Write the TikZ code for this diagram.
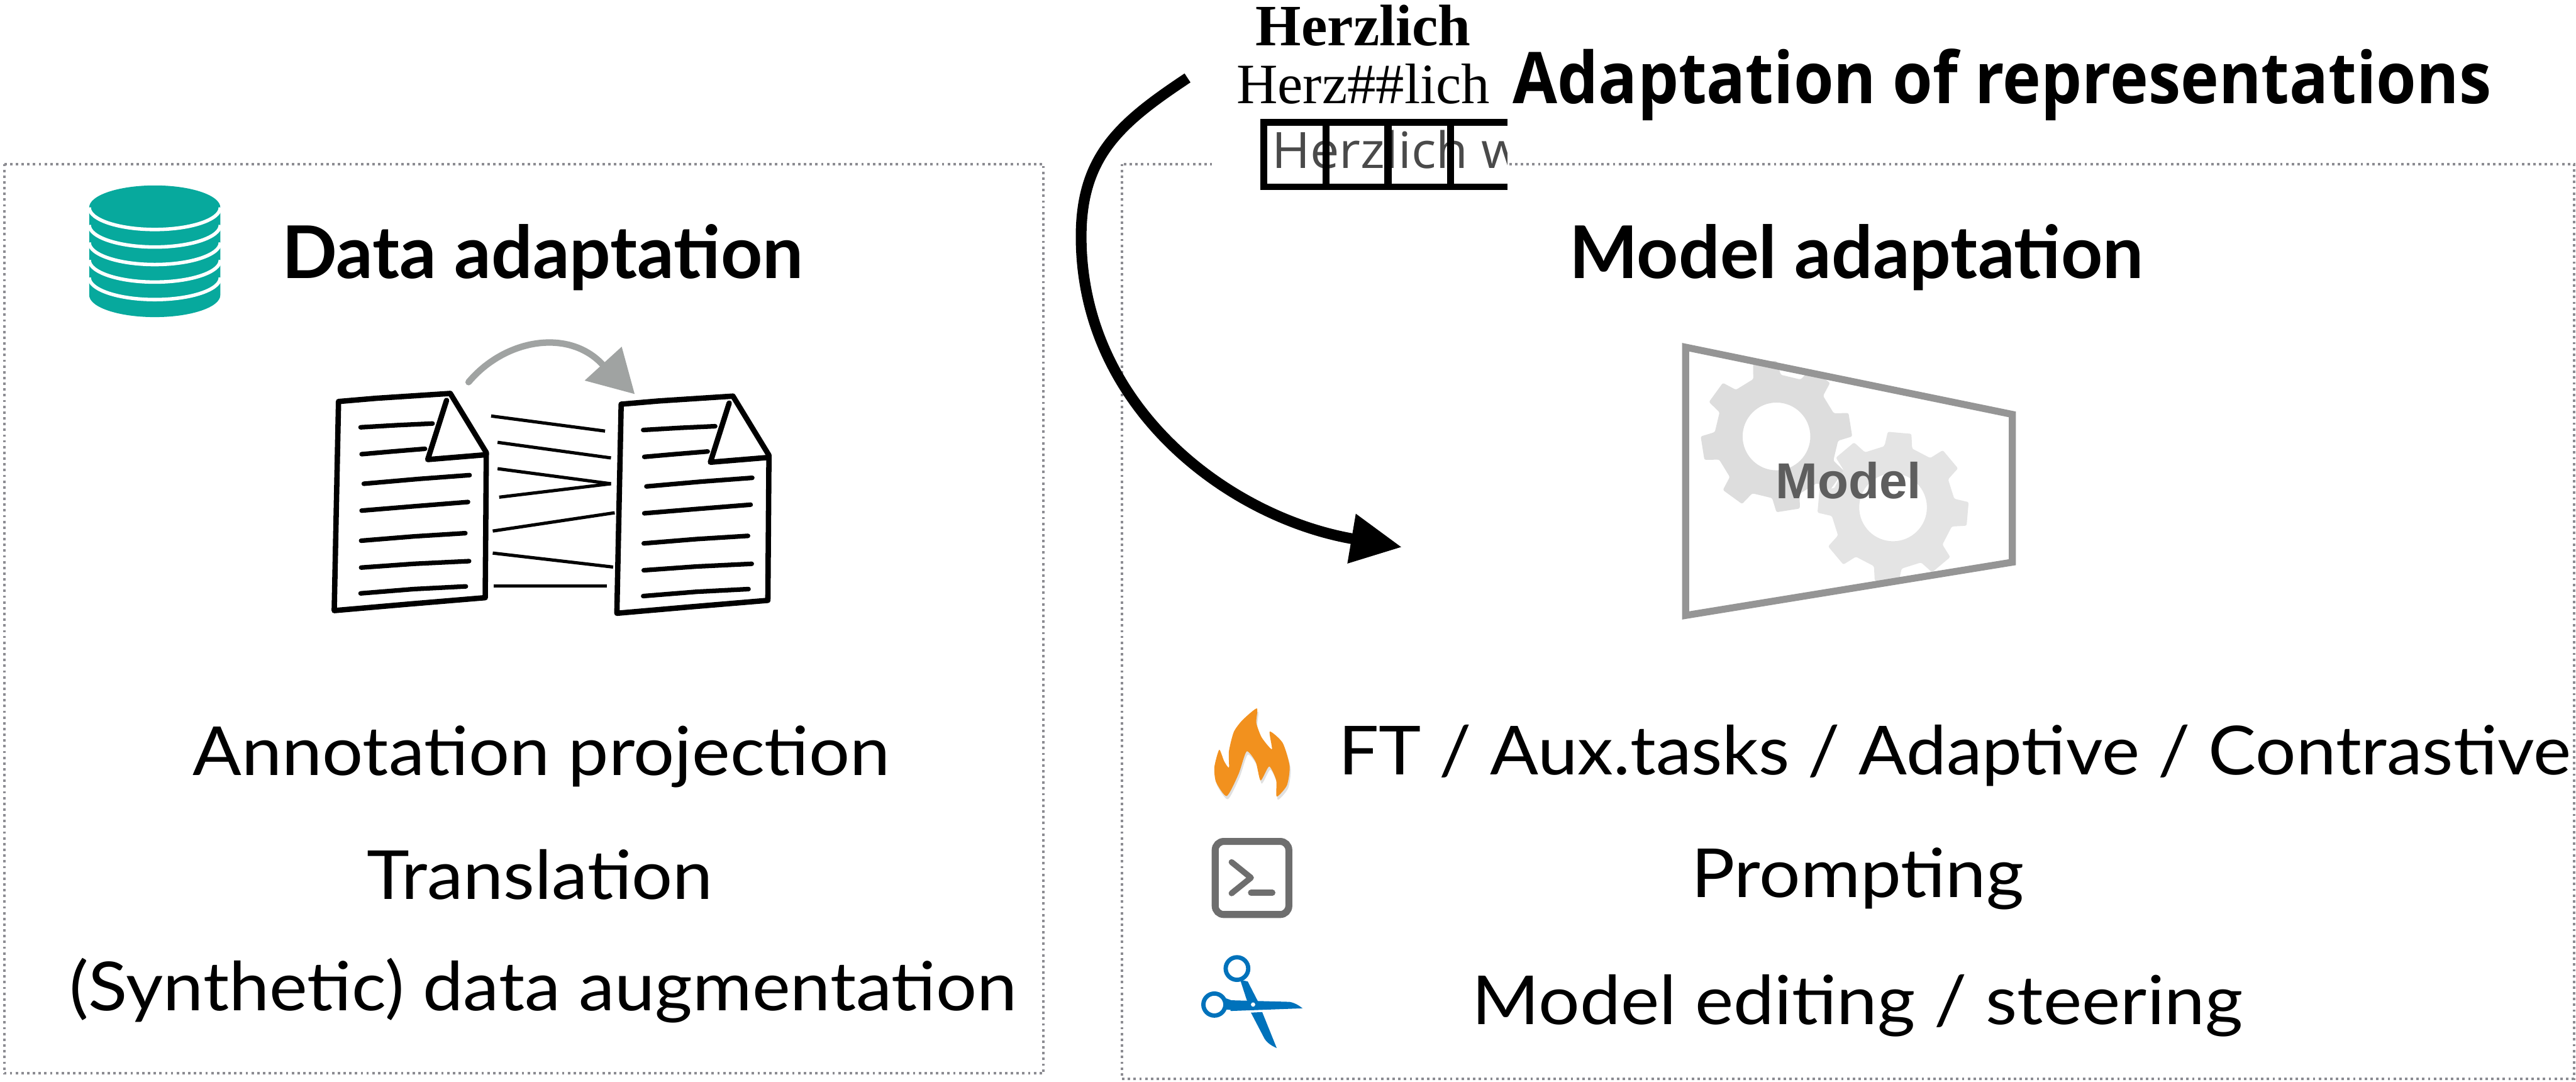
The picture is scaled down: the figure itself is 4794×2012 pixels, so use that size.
\documentclass[tikz,border=0pt]{standalone}
\usepackage{fontspec}
\setmainfont{Lato}
\newfontfamily\reprfont{Open Sans}
\newfontfamily\tokfont{Open Sans}
\newfontfamily\serfont{Liberation Serif}
\newfontfamily\modelfont{Liberation Sans}
\usetikzlibrary{arrows.meta}

\definecolor{dbteal}{HTML}{07A99D}
\definecolor{boxgray}{RGB}{140,140,146}
\definecolor{gearA}{HTML}{DDDDDD}
\definecolor{gearB}{HTML}{E4E4E4}
\definecolor{frameGray}{HTML}{959595}
\definecolor{modelText}{HTML}{5E5E5E}
\definecolor{sketchGray}{RGB}{160,163,162}
\definecolor{flameOrange}{HTML}{F2911E}
\definecolor{termGray}{HTML}{6E6E6E}
\definecolor{scissorBlue}{HTML}{0072BB}
\definecolor{tokGray}{HTML}{4A4A4A}

\newcommand\setfs[1]{\fontsize{#1}{#1}\selectfont}
% body lines are set slightly wider than Lato's natural width
\newcommand\widetext[2][1.068]{\scalebox{#1}[1]{#2}}

\begin{document}
\begin{tikzpicture}[x=0.01cm,y=-0.01cm,
  panel/.style={draw=boxgray, line width=0.045cm, dash pattern=on 0.045cm off 0.062cm},
  heading/.style={font=\setfs{38.5pt}\bfseries, anchor=base, inner sep=0},
  item/.style={font=\setfs{35.8pt}, anchor=base, inner sep=0},
  docedge/.style={line width=0.1cm, line cap=round, line join=round},
  docline/.style={line width=0.085cm, line cap=round, line join=round},
  link/.style={line width=0.06cm},
  gearbody/.style={even odd rule, rounded corners=0.03cm},
  docsketch/.pic={
    \draw[docedge] (630,747) -- (700,741) -- (838,732) -- (905,842) -- (904,980)
                   -- (903,1112) -- (760,1124) -- (622,1136) -- (626,940) -- cycle;
    \draw[docedge] (831,745) -- (796,855) -- (905,846);
    \draw[docline] (671,795) -- (740,791) -- (805,788);
    \draw[docline] (673,845) -- (730,840) -- (791,835);
    \draw[docline] (677,900) -- (780,891) -- (874,884);
    \draw[docline] (673,950) -- (770,942) -- (871,934);
    \draw[docline] (672,1006) -- (770,998) -- (866,992);
    \draw[docline] (672,1056) -- (770,1049) -- (873,1044);
    \draw[docline] (671,1104) -- (770,1096) -- (867,1091);
  }]

\useasboundingbox (0,0) rectangle (4794,2012);

% dotted panels
\draw[panel] (8,305) rectangle (1942,1997);
\draw[panel] (2088,305) rectangle (4790,2007);

% ---------- data adaptation panel ----------
% database stack
\fill[dbteal] (166,386) arc[start angle=180, end angle=360, x radius=122, y radius=41]
  -- (410,549) arc[start angle=0, end angle=180, x radius=122, y radius=41] -- cycle;
\foreach \k in {0,...,4}
  \draw[white, line width=0.065cm] (166,{386+32.6*\k}) arc[start angle=180, end angle=0, x radius=122, y radius=41];

\node[heading] (dataTitle) at (1010,518) {Data adaptation};

% two sketched documents and the alignment links
\pic at (0,0) {docsketch};
\pic at (526,5) {docsketch};
\draw[link] (914,774) -- (1126,802);
\draw[link] (926,823) -- (1137,852);
\draw[link] (926,872) -- (1137,900);
\draw[link] (929,925) -- (1137,900);
\draw[link] (917,988) -- (1144,954);
\draw[link] (917,1029) -- (1141,1055);
\draw[link] (919,1090) -- (1130,1090);

% transfer arrow above the documents
\draw[sketchGray, line width=0.12cm, line cap=round] (872,711) .. controls (940,630) and (1060,610) .. (1123,680);
\fill[sketchGray] (1088,708) -- (1157,645) -- (1181,733) -- cycle;

\node[item] (annProj) at (1008,1442) {\widetext{Annotation projection}};
\node[item] (transl) at (1005,1673) {\widetext{Translation}};
\node[item] (synth) at (1011,1880) {\widetext{(Synthetic) data augmentation}};

% ---------- representations ----------
\fill[white] (2255,205) rectangle (2805,362);
\node[font=\serfont\setfs{31pt}\bfseries, anchor=base, inner sep=0] (wordTok) at (2537,85) {Herzlich};
\node[font=\serfont\setfs{30.2pt}, anchor=base, inner sep=0] (subTok) at (2537,192) {Herz\#\#lich};
\begin{scope}
  \clip (2345,222) rectangle (2805,353);
  \node[font=\tokfont\setfs{26.5pt}, text=tokGray, anchor=base west, inner sep=0] (charTok) at (2366,313)
    {\scalebox{1.04}[1]{Herzlich w}};
\end{scope}
\draw[line width=0.12cm] (2345,227.5) -- (2805,227.5) (2345,347.5) -- (2805,347.5);
\draw[line width=0.13cm] (2351.5,222) -- (2351.5,353) (2468,222) -- (2468,353)
  (2583,222) -- (2583,353) (2700,222) -- (2700,353);

\node[font=\reprfont\setfs{37.8pt}\bfseries, anchor=base, inner sep=0] (reprTitle) at (3726,193)
  {\scalebox{0.906}[1]{Adaptation of representations}};

\coordinate (repStart) at (2210,145);
\coordinate (repBend) at (2012,440);
\coordinate (repEnd) at (2609,1018);
\draw[line width=0.2cm, -{Triangle[length=0.95cm,width=0.88cm]}]
  (repStart) .. controls (2085,228) and (2012,290) .. (repBend)
  .. controls (2012,760) and (2290,964) .. (repEnd);

% ---------- model adaptation panel ----------
\node[heading] (modelTitle) at (3455,518) {Model adaptation};

\begin{scope}[shift={(3306,812)}]
  \fill[gearA, gearbody] (-112:115) \foreach \k in {0,...,7}{
      -- ({-99+45*\k-13}:115) -- ({-99+45*\k-9}:141) -- ({-99+45*\k+9}:141) -- ({-99+45*\k+13}:115)}
    -- cycle (0,0) circle[radius=63];
\end{scope}
\begin{scope}[shift={(3523,944)}]
  \fill[gearB, gearbody] (-98:115) \foreach \k in {0,...,7}{
      -- ({-85+45*\k-13}:115) -- ({-85+45*\k-9}:141) -- ({-85+45*\k+9}:141) -- ({-85+45*\k+13}:115)}
    -- cycle (0,0) circle[radius=63];
\end{scope}
\draw[frameGray, line width=0.13cm] (3137,646) -- (3745,771) -- (3745,1046) -- (3137,1145) -- cycle;
\node[font=\modelfont\setfs{26.7pt}\bfseries, text=modelText, anchor=base, inner sep=0] (modelLbl) at (3440,927) {Model};

% flame
\fill[black, opacity=0.12, shift={(2,6)}] plot[smooth cycle, tension=0.4] coordinates {
  (2283,1481) (2263,1455) (2260,1427) (2269,1395) (2278,1416) (2287,1428) (2287,1398) (2296,1362)
  (2312,1340) (2339,1318) (2338,1345) (2348,1372) (2367,1394) (2363,1361) (2387,1382) (2400,1425)
  (2395,1461) (2376,1482) (2375,1452) (2362,1426) (2346,1452) (2337,1418) (2320,1398) (2305,1440)};
\fill[flameOrange] plot[smooth cycle, tension=0.4] coordinates {
  (2283,1481) (2263,1455) (2260,1427) (2269,1395) (2278,1416) (2287,1428) (2287,1398) (2296,1362)
  (2312,1340) (2339,1318) (2338,1345) (2348,1372) (2367,1394) (2363,1361) (2387,1382) (2400,1425)
  (2395,1461) (2376,1482) (2375,1452) (2362,1426) (2346,1452) (2337,1418) (2320,1398) (2305,1440)};
\node[item, anchor=base west] (ftItem) at (2490,1441) {\widetext[1.058]{FT / Aux.tasks / Adaptive / Contrastive}};

% terminal
\draw[termGray, line width=0.13cm, rounded corners=0.16cm] (2261.5,1565.5) rectangle (2398.5,1701.5);
\draw[termGray, line width=0.11cm, line cap=round, line join=round] (2292,1604) -- (2328,1633) -- (2292,1662);
\draw[termGray, line width=0.11cm, line cap=round] (2328,1661) -- (2368,1661);
\node[item] (promptItem) at (3457,1670) {\widetext[1.075]{Prompting}};

% scissors
\draw[scissorBlue, line width=0.08cm] (2302,1802) circle[radius=21];
\draw[scissorBlue, line width=0.08cm] (2260,1869) circle[radius=20.5];
\fill[scissorBlue] (2308,1823) -- (2322,1826) -- (2341,1863) -- (2321,1863) -- cycle;
\fill[scissorBlue] (2275,1855) -- (2297,1863) -- (2300,1880) -- (2280,1878) -- cycle;
\fill[scissorBlue] (2290,1861) -- (2400,1864) .. controls (2410,1866) and (2418,1871) .. (2424,1876) -- (2290,1881) -- cycle;
\fill[scissorBlue] (2328,1884) -- (2349,1883) -- (2376,1950) .. controls (2365,1945) and (2358,1940) .. (2353,1932) -- cycle;
\fill[white] (2332,1869) circle[radius=4];
\node[item] (editItem) at (3457,1906) {\widetext[1.078]{Model editing / steering}};

\end{tikzpicture}
\end{document}
